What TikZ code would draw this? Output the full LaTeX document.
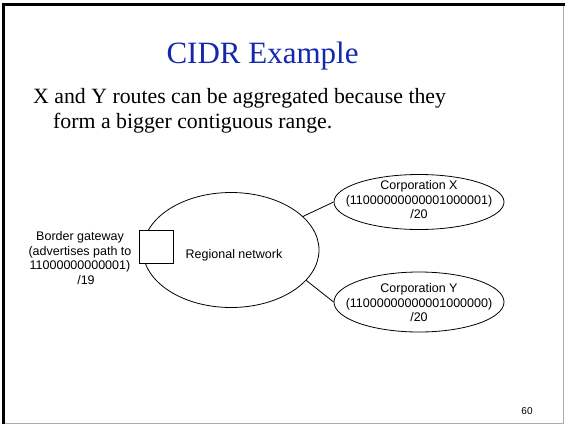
\documentclass[tikz,border=0pt]{standalone}
\usepackage{fontspec}
\setmainfont{Liberation Serif}
\newfontfamily\diagfont{Liberation Sans}
\usetikzlibrary{shapes.geometric}
\definecolor{titleblue}{RGB}{20,40,170}
\definecolor{framegray}{RGB}{170,170,170}
\begin{document}
\begin{tikzpicture}[x=1pt,y=-1pt,
  lbl/.style={font=\diagfont\fontsize{12.5}{14.5}\selectfont, align=center, inner sep=0pt},
  netshape/.style={draw, ellipse, line width=0.8pt, inner sep=0pt},
  linkline/.style={line width=0.8pt},
  bodytext/.style={anchor=base west, font=\fontsize{21.8}{24}\selectfont, inner sep=0pt}]
\useasboundingbox (0,0) rectangle (565,424);
% slide frame
\draw[framegray, line width=1pt] (563.5,4) -- (563.5,423.5) -- (4,423.5);
\draw[line width=3pt] (3.5,424) -- (3.5,4.5) -- (565,4.5);

% title and body text
\node[anchor=base, text=titleblue, font=\fontsize{31}{34}\selectfont, inner sep=0pt] (title) at (262.5,63) {CIDR Example};
\node[bodytext] (line1) at (33,103) {X and Y routes can be aggregated because they};
\node[bodytext] (line2) at (53,128) {form a bigger contiguous range.};

% networks
\node[netshape, minimum width=176pt, minimum height=115pt] (reg) at (231,250) {};
\node[lbl] (reglabel) at (234,255) {Regional network};
\node[draw, fill=white, line width=0.8pt, minimum width=34pt, minimum height=33pt, inner sep=0pt] (gw) at (156,247) {};
\node[lbl] (gwlabel) at (80,258) {Border gateway\\(advertises path to\\11000000000001)\\\hspace*{12pt}/19};

\node[netshape, minimum width=170pt, minimum height=55pt] (cx) at (419,202) {};
\node[lbl] (cxlabel) at (419,200) {Corporation X\\(11000000000001000001)\\/20};
\node[netshape, minimum width=170pt, minimum height=60pt] (cy) at (419,302) {};
\node[lbl] (cylabel) at (419,303) {Corporation Y\\(11000000000001000000)\\/20};

\draw[linkline] (reg.25) -- (cx.west);
\draw[linkline] (reg.-22) -- (cy.west);

% page number
\node[font=\diagfont\fontsize{10}{12}\selectfont, inner sep=0pt] (pageno) at (527,411) {60};
\end{tikzpicture}
\end{document}
